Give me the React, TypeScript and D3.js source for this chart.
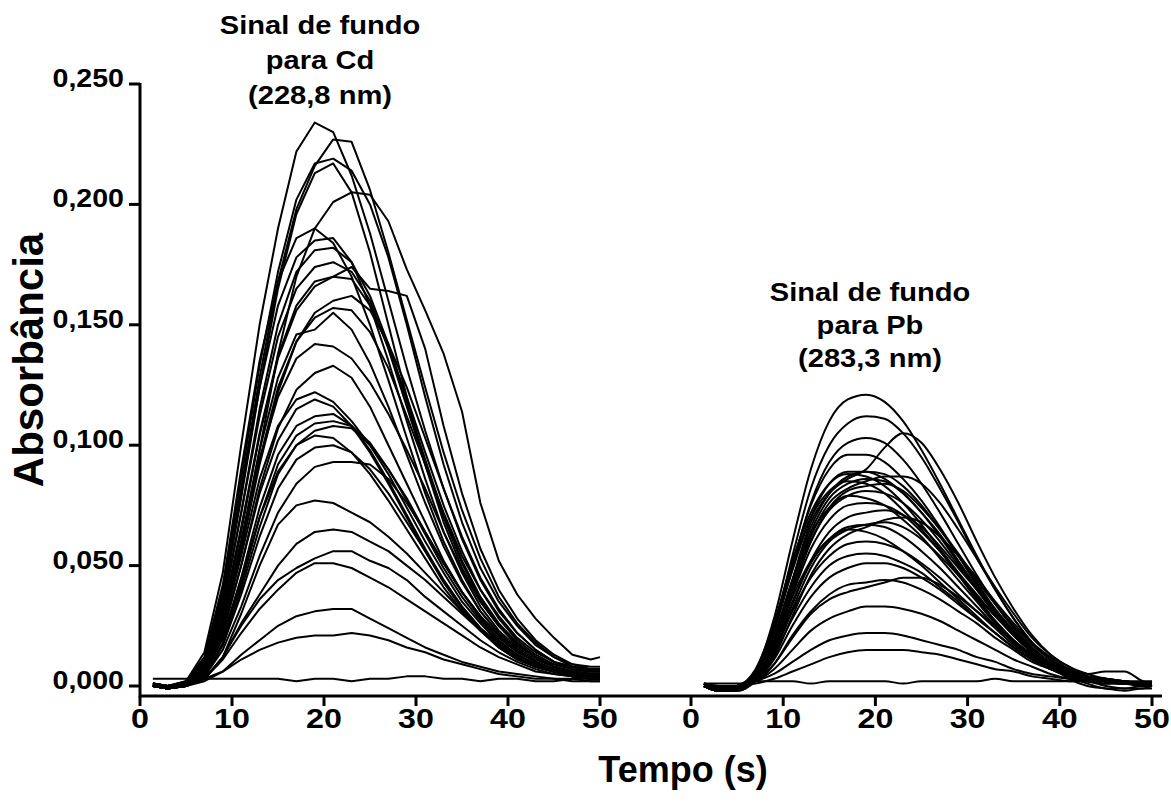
import React from "react";
import * as d3 from "d3";

// Sampling instants (s) shared by every recorded transient
const TIME = [1.4, 3, 5, 7, 9, 11, 13, 15, 17, 19, 21, 23, 25, 27, 29, 31, 33, 35, 37, 39, 41, 43, 45, 47, 49, 50];

// Background absorbance transients at 228,8 nm (Cd line), absorbance x 1000
const cdSignals: number[][] = [
  [1, 0, 2, 14, 47, 100, 150, 190, 222, 234, 230, 212, 188, 160, 132, 106, 82, 61, 44, 31, 22, 15, 10, 7, 6, 6],
  [0, -1, 1, 10, 38, 82, 128, 168, 198, 216, 227, 226, 206, 180, 152, 124, 97, 73, 53, 37, 26, 18, 12, 8, 6, 6],
  [1, 0, 1, 11, 40, 86, 133, 172, 202, 217, 219, 214, 200, 178, 150, 120, 92, 68, 49, 35, 25, 17, 12, 9, 7, 7],
  [0, -1, 0, 9, 35, 78, 124, 165, 196, 213, 217, 205, 180, 150, 120, 92, 68, 49, 35, 25, 17, 12, 8, 6, 5, 5],
  [0, -1, 0, 6, 24, 58, 98, 138, 170, 190, 201, 205, 204, 193, 173, 156, 138, 114, 76, 52, 38, 28, 20, 13, 11, 12],
  [1, 0, 2, 12, 42, 90, 135, 168, 186, 190, 184, 170, 150, 127, 103, 80, 60, 44, 31, 22, 15, 10, 7, 5, 4, 4],
  [0, -1, 1, 9, 36, 80, 124, 158, 178, 185, 186, 176, 158, 135, 110, 86, 64, 47, 33, 23, 16, 11, 8, 6, 5, 5],
  [0, 0, 0, 7, 32, 72, 115, 150, 172, 181, 182, 176, 162, 142, 118, 94, 71, 52, 37, 26, 18, 12, 8, 6, 5, 5],
  [1, 0, 1, 8, 33, 72, 112, 145, 165, 174, 176, 172, 160, 140, 116, 92, 70, 51, 36, 25, 17, 12, 9, 7, 6, 6],
  [0, -1, 0, 6, 28, 64, 104, 136, 156, 166, 170, 169, 158, 141, 120, 97, 75, 56, 40, 28, 19, 13, 9, 7, 6, 6],
  [0, -1, 1, 7, 30, 66, 105, 137, 158, 168, 170, 174, 165, 164, 162, 140, 108, 80, 57, 40, 28, 19, 13, 9, 8, 8],
  [0, 0, 0, 5, 24, 56, 92, 122, 143, 155, 160, 162, 156, 142, 124, 103, 82, 62, 45, 32, 22, 15, 10, 8, 7, 7],
  [1, 0, 1, 6, 26, 58, 94, 124, 143, 153, 157, 156, 147, 132, 112, 92, 72, 54, 40, 29, 20, 14, 10, 8, 7, 7],
  [0, -1, 0, 6, 26, 60, 98, 128, 146, 148, 155, 148, 134, 116, 96, 76, 58, 43, 31, 22, 15, 10, 7, 5, 4, 4],
  [0, 0, 1, 7, 27, 60, 94, 120, 136, 142, 141, 136, 126, 113, 98, 82, 64, 48, 35, 25, 17, 12, 8, 6, 5, 5],
  [0, -1, 0, 5, 22, 50, 82, 107, 123, 130, 133, 128, 116, 100, 84, 68, 52, 39, 28, 20, 14, 10, 7, 5, 4, 4],
  [1, 0, 1, 6, 24, 54, 86, 108, 119, 122, 118, 110, 100, 88, 74, 60, 47, 35, 26, 18, 13, 9, 6, 5, 4, 4],
  [0, -1, 0, 5, 22, 50, 80, 102, 115, 119, 116, 108, 97, 84, 70, 56, 43, 32, 23, 16, 11, 8, 6, 4, 3, 3],
  [0, 0, 1, 5, 20, 45, 74, 96, 108, 112, 113, 108, 98, 85, 71, 57, 44, 33, 24, 17, 12, 8, 6, 5, 4, 4],
  [0, -1, 0, 4, 18, 42, 70, 92, 104, 109, 110, 108, 101, 90, 77, 63, 49, 37, 27, 19, 13, 9, 7, 5, 4, 4],
  [1, 0, 1, 4, 17, 40, 66, 88, 100, 106, 108, 107, 100, 90, 78, 64, 51, 39, 29, 21, 15, 10, 7, 6, 5, 5],
  [0, -1, 0, 5, 20, 44, 70, 89, 100, 104, 103, 97, 88, 77, 65, 53, 41, 31, 23, 16, 11, 8, 6, 4, 3, 3],
  [0, 0, 0, 4, 17, 38, 62, 82, 94, 99, 100, 97, 90, 80, 68, 56, 44, 33, 24, 17, 12, 8, 6, 4, 3, 3],
  [0, 0, 1, 4, 15, 33, 54, 72, 84, 91, 93, 93, 92, 86, 76, 64, 51, 39, 29, 21, 15, 10, 7, 5, 4, 4],
  [0, 0, 0, 3, 12, 30, 50, 67, 75, 77, 76, 72, 68, 62, 55, 47, 39, 31, 24, 18, 13, 9, 6, 5, 4, 4],
  [0, 0, 0, 3, 12, 26, 38, 50, 59, 64, 65, 64, 60, 56, 50, 44, 37, 30, 23, 17, 12, 8, 6, 4, 3, 3],
  [0, -1, 0, 3, 12, 25, 36, 44, 49, 53, 56, 56, 52, 49, 44, 37, 31, 25, 19, 14, 10, 7, 5, 4, 3, 3],
  [0, 0, 0, 3, 11, 22, 32, 40, 47, 51, 51, 49, 45, 41, 36, 31, 26, 21, 16, 12, 9, 6, 5, 4, 3, 3],
  [0, 0, 0, 2, 6, 13, 19, 25, 29, 31, 32, 32, 28, 24, 20, 16, 13, 10, 8, 6, 5, 4, 3, 3, 2, 2],
  [0, 0, 1, 3, 6, 11, 15, 18, 20, 21, 21, 22, 21, 19, 16, 14, 11, 9, 7, 5, 4, 3, 3, 2, 2, 2],
  [3, 3, 3, 3, 3, 3, 3, 3, 2, 3, 3, 2, 3, 3, 4, 4, 3, 3, 2, 3, 3, 2, 2, 3, 3, 3],
];

// Background absorbance transients at 283,3 nm (Pb line), absorbance x 1000
const pbSignals: number[][] = [
  [0, -2, -1, 6, 28, 60, 90, 110, 119, 121, 118, 110, 98, 84, 69, 54, 40, 28, 18, 11, 6, 3, 2, 1, 1, 0],
  [0, -1, -1, 5, 24, 54, 82, 100, 109, 112, 111, 105, 95, 82, 68, 53, 40, 28, 18, 11, 6, 4, 2, 2, 1, 1],
  [0, -2, -2, 3, 18, 44, 68, 80, 86, 90, 99, 105, 101, 90, 76, 60, 45, 32, 21, 13, 8, 5, 6, 6, 2, 1],
  [1, -1, -1, 5, 23, 50, 76, 93, 101, 103, 101, 94, 84, 72, 59, 46, 34, 24, 16, 10, 6, 3, 2, 1, 1, 1],
  [0, -2, -1, 6, 24, 51, 75, 90, 96, 96, 93, 86, 77, 66, 54, 42, 31, 22, 14, 9, 5, 3, 2, 1, 0, 0],
  [0, -1, 0, 6, 23, 48, 70, 84, 89, 89, 86, 80, 72, 62, 51, 40, 30, 21, 14, 9, 5, 3, 2, 1, 1, 1],
  [0, -2, -1, 4, 20, 44, 66, 80, 87, 89, 88, 83, 75, 65, 54, 43, 32, 23, 15, 9, 5, 3, 2, 1, 1, 1],
  [1, -1, 0, 7, 26, 52, 72, 84, 88, 87, 83, 76, 67, 57, 47, 37, 27, 19, 13, 8, 3, 0, -1, -2, -1, -1],
  [0, -2, -2, 3, 17, 40, 62, 76, 82, 85, 87, 87, 84, 76, 65, 53, 41, 30, 20, 13, 8, 5, 3, 2, 1, 1],
  [0, -1, -1, 4, 19, 42, 64, 78, 84, 86, 85, 80, 72, 63, 52, 41, 31, 22, 15, 9, 5, 3, 2, 1, 1, 1],
  [1, 0, 0, 6, 25, 50, 70, 81, 85, 84, 80, 73, 65, 56, 46, 36, 27, 19, 12, 8, 5, 3, 2, 2, 1, 1],
  [0, -2, -1, 3, 17, 39, 60, 74, 81, 83, 84, 81, 74, 65, 55, 44, 34, 25, 17, 11, 7, 4, 3, 2, 1, 1],
  [0, -1, -1, 4, 18, 40, 60, 73, 79, 81, 80, 76, 69, 60, 50, 40, 30, 21, 14, 9, 4, 1, -1, -1, 0, 0],
  [1, -1, 0, 5, 21, 44, 63, 74, 79, 78, 75, 69, 62, 53, 44, 35, 26, 18, 12, 8, 5, 3, 2, 1, 1, 0],
  [0, -2, -1, 4, 17, 38, 57, 69, 75, 76, 75, 71, 64, 56, 47, 38, 29, 21, 14, 9, 5, 3, 2, 1, 1, 1],
  [0, -1, -1, 3, 15, 34, 52, 64, 70, 72, 73, 71, 66, 58, 49, 40, 31, 22, 15, 9, 6, 3, 2, 1, 1, 1],
  [0, -2, -2, 2, 12, 29, 46, 57, 63, 66, 69, 70, 68, 62, 54, 45, 35, 26, 18, 12, 7, 4, 3, 2, 1, 1],
  [1, -1, -1, 3, 14, 32, 49, 60, 65, 67, 68, 66, 61, 54, 46, 37, 29, 21, 14, 9, 5, 3, 2, 1, 1, 1],
  [0, -1, 0, 4, 16, 35, 51, 61, 66, 67, 66, 62, 56, 49, 41, 33, 25, 18, 12, 8, 5, 3, 2, 1, 1, 1],
  [0, -2, 0, 5, 18, 37, 52, 61, 65, 64, 61, 56, 50, 43, 36, 29, 22, 16, 11, 7, 4, 2, 0, -1, -1, 0],
  [0, -1, -1, 3, 14, 31, 45, 54, 59, 60, 59, 56, 51, 45, 38, 31, 24, 17, 12, 8, 5, 3, 2, 1, 1, 1],
  [1, -1, 0, 3, 13, 28, 41, 50, 54, 55, 54, 51, 47, 41, 35, 28, 22, 16, 11, 7, 4, 3, 2, 1, 1, 1],
  [0, -2, -1, 2, 11, 25, 37, 45, 49, 51, 51, 49, 45, 40, 34, 28, 22, 16, 11, 7, 5, 3, 2, 1, 1, 1],
  [0, -1, -1, 2, 9, 20, 30, 36, 39, 41, 43, 45, 45, 42, 37, 31, 25, 19, 13, 9, 6, 4, 3, 2, 1, 1],
  [0, -1, 0, 2, 9, 21, 31, 38, 42, 43, 44, 43, 40, 36, 31, 26, 20, 15, 10, 7, 4, 3, 2, 1, 1, 1],
  [0, -1, 0, 2, 7, 15, 23, 28, 31, 33, 33, 32, 30, 27, 23, 19, 15, 11, 8, 5, 3, 2, 2, 1, 1, 1],
  [1, 0, 0, 2, 5, 10, 15, 19, 21, 22, 22, 21, 19, 17, 15, 12, 10, 7, 5, 4, 3, 2, 1, 1, 1, 1],
  [0, 0, 0, 1, 3, 6, 9, 12, 14, 15, 15, 15, 14, 13, 11, 9, 7, 6, 4, 3, 2, 2, 1, 1, 1, 1],
  [1, 1, 1, 2, 2, 2, 1, 2, 2, 2, 2, 1, 2, 2, 2, 2, 3, 2, 2, 2, 2, 2, 1, 2, 2, 2],
];

const X_TICKS = [0, 10, 20, 30, 40, 50];
const Y_TICKS = [0, 50, 100, 150, 200, 250];
const Y_TICK_LABELS = ["0,000", "0,050", "0,100", "0,150", "0,200", "0,250"];
const CD_TITLE = ["Sinal de fundo", "para Cd", "(228,8 nm)"];
const PB_TITLE = ["Sinal de fundo", "para Pb", "(283,3 nm)"];
const X_TITLE = "Tempo (s)";
const Y_TITLE = "Absorbância";

const W = 1171;
const H = 803;
const FONT = "'Liberation Sans', Arial, Helvetica, sans-serif";
// the lettering of this figure is slightly widened
const STRETCH = 1.12;

export default function App() {
  const y = d3.scaleLinear().domain([0, 250]).range([686, 84]);
  const xCd = d3.scaleLinear().domain([0, 50]).range([140, 600]);
  const xPb = d3.scaleLinear().domain([0, 50]).range([691, 1152]);
  const axisY = 696;

  const makeLine = (x: d3.ScaleLinear<number, number>, curve: d3.CurveFactory) =>
    d3
      .line<number>()
      .x((_, i) => x(TIME[i]))
      .y((v) => y(v))
      .curve(curve);

  const lineCd = makeLine(xCd, d3.curveLinear);
  const linePb = makeLine(xPb, d3.curveMonotoneX);

  const xTickLabels = (x: d3.ScaleLinear<number, number>, key: string) =>
    X_TICKS.map((t) => (
      <g key={key + t}>
        <line x1={x(t)} x2={x(t)} y1={axisY} y2={axisY + 10} stroke="#000" strokeWidth={3} />
        <text
          transform={`translate(${x(t)},${axisY + 32}) scale(1.15,1)`}
          textAnchor="middle"
          fontSize={28}
          fontWeight="bold"
        >
          {t}
        </text>
      </g>
    ));

  const title = (lines: string[], cx: number, top: number, step: number, key: string) =>
    lines.map((s, i) => (
      <text
        key={key + i}
        transform={`translate(${cx},${top + i * step}) scale(${STRETCH},1)`}
        textAnchor="middle"
        fontSize={26}
        fontWeight="bold"
      >
        {s}
      </text>
    ));

  return (
    <svg
      width={W}
      height={H}
      style={{ position: "absolute", left: 0, top: 0, background: "#fff" }}
      fontFamily={FONT}
    >
      <rect width={W} height={H} fill="#fff" />
      {/* transients */}
      <g fill="none" stroke="#000" strokeWidth={2} strokeLinejoin="round">
        {cdSignals.map((s, i) => (
          <path key={"cd" + i} d={lineCd(s) || ""} />
        ))}
        {pbSignals.map((s, i) => (
          <path key={"pb" + i} d={linePb(s) || ""} />
        ))}
      </g>

      {/* axes */}
      <line x1={xCd(0)} x2={1162} y1={axisY} y2={axisY} stroke="#000" strokeWidth={3} />
      <line x1={xCd(0)} x2={xCd(0)} y1={y(250) - 1} y2={axisY + 1.5} stroke="#000" strokeWidth={3} />
      {Y_TICKS.map((v, i) => (
        <g key={"yt" + v}>
          <line x1={xCd(0) - 11} x2={xCd(0)} y1={y(v)} y2={y(v)} stroke="#000" strokeWidth={3} />
          <text
            transform={`translate(${xCd(0) - 16},${y(v) + 3}) scale(${STRETCH},1)`}
            textAnchor="end"
            fontSize={25.5}
            fontWeight="bold"
          >
            {Y_TICK_LABELS[i]}
          </text>
        </g>
      ))}
      {xTickLabels(xCd, "xc")}
      {xTickLabels(xPb, "xp")}

      {/* axis titles */}
      <text x={683} y={782} textAnchor="middle" fontSize={36} fontWeight="bold">
        {X_TITLE}
      </text>
      <text
        transform={`translate(43,360) rotate(-90)`}
        textAnchor="middle"
        fontSize={42}
        fontWeight="bold"
      >
        {Y_TITLE}
      </text>

      {/* annotations */}
      {title(CD_TITLE, 320, 34, 35, "ct")}
      {title(PB_TITLE, 870, 301, 33, "pt")}
    </svg>
  );
}
